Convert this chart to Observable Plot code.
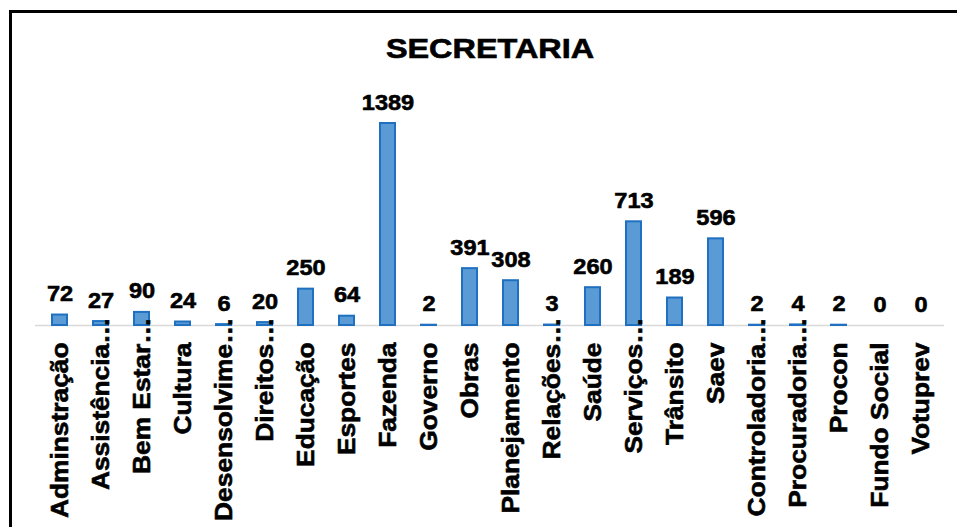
<!DOCTYPE html>
<html><head><meta charset="utf-8">
<script src="https://cdn.jsdelivr.net/npm/d3@7"></script>
<script src="https://cdn.jsdelivr.net/npm/@observablehq/plot@0.6"></script>
<style>html,body{margin:0;padding:0;background:#fff;} svg{display:block}</style>
</head><body><div id="chart"></div>
<script>
const title = "SECRETARIA";
const categories = [
  "Adminstração", "Assistência…", "Bem Estar…", "Cultura", "Desensolvime…",
  "Direitos…", "Educação", "Esportes", "Fazenda", "Governo", "Obras",
  "Planejamento", "Relações…", "Saúde", "Serviços…", "Trânsito", "Saev",
  "Controladoria…", "Procuradoria…", "Procon", "Fundo Social", "Votuprev"
];
const values = [72, 27, 90, 24, 6, 20, 250, 64, 1389, 2, 391, 308, 3, 260, 713, 189, 596, 2, 4, 2, 0, 0];

const data = categories.map((c, i) => ({name: c, value: values[i]}));
const truncatedCats = categories.filter(c => c.endsWith("…"));
const fullCats = categories.filter(c => !c.endsWith("…"));

const W = 957, H = 527;
const mTop = 123, mBottom = 202, mLeft = 35, mRight = 13;

const chart = Plot.plot({
  width: W, height: H,
  marginTop: mTop, marginBottom: mBottom, marginLeft: mLeft, marginRight: mRight,
  style: {fontFamily: "'Liberation Sans', Arial, sans-serif", color: "black", background: "white"},
  x: {domain: categories, paddingInner: 0.64, paddingOuter: 0.33, label: null},
  y: {domain: [0, d3.max(values)], axis: null},
  marks: [
    Plot.frame({stroke: "black", strokeWidth: 3,
      insetLeft: -(mLeft - 10), insetTop: -(mTop - 11), insetRight: -30, insetBottom: -(mBottom + 20)}),
    Plot.ruleY([0], {stroke: "#d9d9d9", strokeWidth: 1.5}),
    Plot.barY(data, {x: "name", y: "value", filter: d => d.value > 0,
      fill: "#5B9BD5", stroke: "#1F70C1", strokeWidth: 2}),
    Plot.text(data, {x: "name", y: "value", text: d => String(d.value),
      lineAnchor: "bottom", dy: -14, fontSize: 22, fontWeight: "bold", fill: "black"}),
    Plot.text([title], {frameAnchor: "top", lineAnchor: "bottom", dy: -(mTop - 57),
      fontSize: 27, fontWeight: "bold", fill: "black"}),
    Plot.axisX({ticks: fullCats, tickRotate: -90, tickSize: 0, tickPadding: 17,
      fontSize: 23.5, fontWeight: "bold", label: null}),
    Plot.axisX({ticks: truncatedCats, tickRotate: -90, tickSize: 0, tickPadding: -8,
      fontSize: 23.5, fontWeight: "bold", label: null})
  ]
});

document.getElementById("chart").appendChild(chart);

// Stretch glyphs along the text direction and thicken them slightly to match the reference's heavy rendering
d3.select(chart).selectAll("text").each(function() {
  const s = this.textContent;
  let factor;
  if (s === title) factor = 1.2;
  else if (/^\d+$/.test(s)) factor = 1.07;
  else if (categories.includes(s)) factor = 1.12;
  else return;
  const len = this.getComputedTextLength();
  if (len > 0) {
    this.setAttribute("textLength", (len * factor).toFixed(1));
    this.setAttribute("lengthAdjust", "spacingAndGlyphs");
  }
  this.setAttribute("stroke", "black");
  this.setAttribute("stroke-width", "0.6");
  this.setAttribute("paint-order", "fill");
});
</script>
</body></html>
